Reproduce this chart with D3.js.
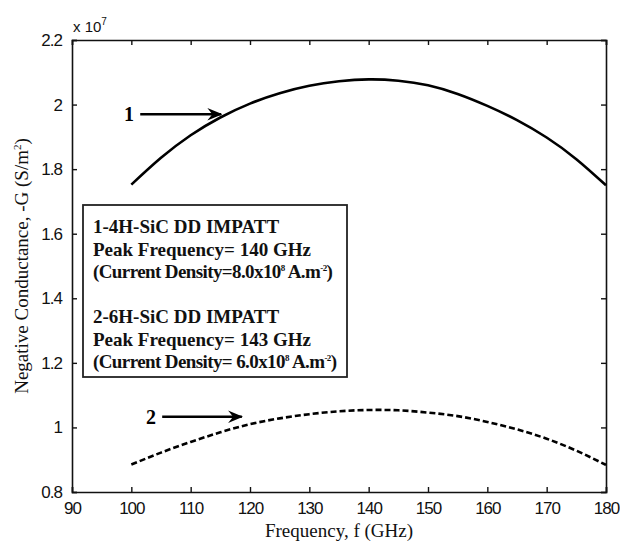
<!DOCTYPE html>
<html>
<head>
<meta charset="utf-8">
<script src="https://cdn.jsdelivr.net/npm/d3@7"></script>
<style>
  body { margin: 0; background: #fff; }
  svg { display: block; }
</style>
</head>
<body>
<svg id="chart"></svg>
<script>
// Data (values in units of 1e7 S/m^2)
const freq = [100, 105, 110, 115, 120, 125, 130, 135, 140, 145, 150, 155, 160, 165, 170, 175, 180];
const curve1 = [1.752, 1.835, 1.905, 1.96, 2.003, 2.035, 2.058, 2.072, 2.078, 2.074, 2.06, 2.033, 1.996, 1.952, 1.898, 1.831, 1.75];
const curve2 = [0.885, 0.922, 0.955, 0.985, 1.01, 1.028, 1.041, 1.05, 1.054, 1.053, 1.046, 1.035, 1.017, 0.994, 0.965, 0.928, 0.884];
const xTicks = [90, 100, 110, 120, 130, 140, 150, 160, 170, 180];
const yTicks = [0.8, 1, 1.2, 1.4, 1.6, 1.8, 2, 2.2];

const width = 620, height = 545;
const margin = { top: 40, right: 14, bottom: 53, left: 72 };

const svg = d3.select("#chart")
    .attr("width", width)
    .attr("height", height);

const x = d3.scaleLinear().domain([90, 180]).range([margin.left, width - margin.right]);
const y = d3.scaleLinear().domain([0.8, 2.2]).range([height - margin.bottom, margin.top]);

const tickFont = "'Liberation Sans', Arial, sans-serif";
const serif = "'Liberation Serif', 'Times New Roman', serif";

// axes, ticks pointing inwards on all four sides (MATLAB style)
const tickLen = 5;
const axBottom = svg.append("g")
    .attr("transform", `translate(0,${y(0.8)})`)
    .call(d3.axisBottom(x).tickValues(xTicks).tickSize(-tickLen).tickPadding(10).tickFormat(d3.format("d")));
const axTop = svg.append("g")
    .attr("transform", `translate(0,${y(2.2)})`)
    .call(d3.axisTop(x).tickValues(xTicks).tickSize(-tickLen).tickFormat(""));
const axLeft = svg.append("g")
    .attr("transform", `translate(${x(90)},0)`)
    .call(d3.axisLeft(y).tickValues(yTicks).tickSize(-tickLen).tickPadding(10).tickFormat(d => d3.format("~g")(d)));
const axRight = svg.append("g")
    .attr("transform", `translate(${x(180)},0)`)
    .call(d3.axisRight(y).tickValues(yTicks).tickSize(-tickLen).tickFormat(""));

[axBottom, axTop, axLeft, axRight].forEach(g => {
    g.select(".domain").attr("stroke", "#111").attr("stroke-width", 1.6);
    g.selectAll(".tick line").attr("stroke", "#111").attr("stroke-width", 1.4);
    g.selectAll(".tick text")
        .attr("font-family", tickFont)
        .attr("font-size", "17px")
        .attr("letter-spacing", "-1px")
        .attr("fill", "#111");
});

// exponent label above the y axis
const expo = svg.append("text")
    .attr("x", x(90) + 1)
    .attr("y", y(2.2) - 8)
    .attr("font-family", tickFont)
    .attr("font-size", "15px")
    .attr("fill", "#111");
expo.append("tspan").text("x 10");
expo.append("tspan").attr("dy", -7).attr("font-size", "10px").text("7");

// curves
const line = d3.line()
    .x((d, i) => x(freq[i]))
    .y(d => y(d))
    .curve(d3.curveNatural);

svg.append("path")
    .datum(curve1)
    .attr("d", line)
    .attr("fill", "none")
    .attr("stroke", "#000")
    .attr("stroke-width", 2.6);

svg.append("path")
    .datum(curve2)
    .attr("d", line)
    .attr("fill", "none")
    .attr("stroke", "#000")
    .attr("stroke-width", 2.6)
    .attr("stroke-dasharray", "6,3");

// arrow marker
svg.append("defs").append("marker")
    .attr("id", "arrow")
    .attr("viewBox", "0 0 12 10")
    .attr("refX", 11).attr("refY", 5)
    .attr("markerWidth", 15).attr("markerHeight", 13)
    .attr("markerUnits", "userSpaceOnUse")
    .attr("orient", "auto")
    .append("path")
    .attr("d", "M0,0 L12,5 L0,10 L4,5 Z")
    .attr("fill", "#000");

// curve annotations: [label, text x, arrow start x, arrow end x, y value]
const notes = [
    ["1", 99.6, 101.5, 115.8, 1.97],
    ["2", 103.3, 105.2, 119.3, 1.033]
];
notes.forEach(n => {
    svg.append("text")
        .attr("x", x(n[1]))
        .attr("y", y(n[4]) + 7)
        .attr("text-anchor", "middle")
        .attr("font-family", serif)
        .attr("font-weight", "bold")
        .attr("font-size", "20px")
        .text(n[0]);
    svg.append("line")
        .attr("x1", x(n[2])).attr("y1", y(n[4]))
        .attr("x2", x(n[3]) - 4).attr("y2", y(n[4]))
        .attr("stroke", "#000")
        .attr("stroke-width", 2.6)
        .attr("marker-end", "url(#arrow)");
});

// legend box
const legendLines = [
    [["1-4H-SiC DD IMPATT"]],
    [["Peak Frequency= 140 GHz"]],
    [["(Current Density=8.0x10"], ["8", "sup"], [" A.m", "base"], ["-2", "sup"], [")", "base"]],
    null,
    [["2-6H-SiC DD IMPATT"]],
    [["Peak Frequency= 143 GHz"]],
    [["(Current Density= 6.0x10"], ["8", "sup"], [" A.m", "base"], ["-2", "sup"], [")", "base"]]
];
const box = svg.append("g").attr("transform", "translate(83,205)");
box.append("rect")
    .attr("width", 264).attr("height", 172)
    .attr("fill", "#fff")
    .attr("stroke", "#222")
    .attr("stroke-width", 1.8);
legendLines.forEach((parts, i) => {
    if (!parts) return;
    const t = box.append("text")
        .attr("x", 10)
        .attr("y", 28 + i * 22.5)
        .attr("font-family", serif)
        .attr("font-weight", "bold")
        .attr("font-size", "19px")
        .attr("letter-spacing", parts.length > 1 ? "-0.6px" : "0px")
        .attr("fill", "#111");
    parts.forEach(p => {
        const s = t.append("tspan").text(p[0]);
        if (p[1] === "sup") s.attr("dy", -7).attr("font-size", "9px");
        else if (p[1] === "base") s.attr("dy", 7);
    });
});

// axis titles
svg.append("text")
    .attr("x", (x(90) + x(180)) / 2)
    .attr("y", 537)
    .attr("text-anchor", "middle")
    .attr("font-family", serif)
    .attr("font-size", "19px")
    .attr("fill", "#111")
    .text("Frequency, f (GHz)");

const yTitle = svg.append("text")
    .attr("transform", `translate(28,${(y(0.8) + y(2.2)) / 2}) rotate(-90)`)
    .attr("text-anchor", "middle")
    .attr("font-family", serif)
    .attr("font-size", "19px")
    .attr("fill", "#111");
yTitle.append("tspan").text("Negative Conductance, -G (S/m");
yTitle.append("tspan").attr("dy", -7).attr("font-size", "11px").text("2");
yTitle.append("tspan").attr("dy", 7).text(")");
</script>
</body>
</html>
